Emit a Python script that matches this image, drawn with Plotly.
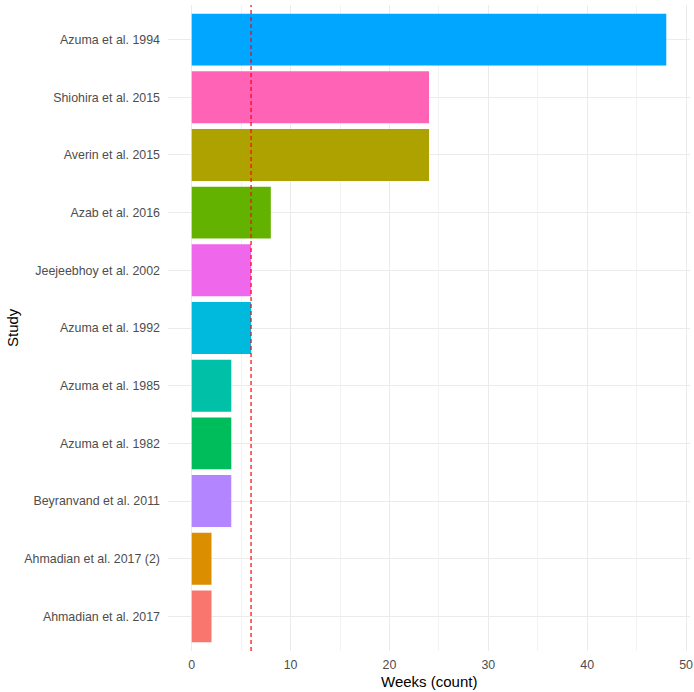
import plotly.graph_objects as go

studies = ["Ahmadian et al. 2017", "Ahmadian et al. 2017 (2)", "Beyranvand et al. 2011",
           "Azuma et al. 1982", "Azuma et al. 1985", "Azuma et al. 1992",
           "Jeejeebhoy et al. 2002", "Azab et al. 2016", "Averin et al. 2015",
           "Shiohira et al. 2015", "Azuma et al. 1994"]
weeks = [2, 2, 4, 4, 4, 6, 6, 8, 24, 24, 48]
colors = ["#F8766D", "#DB8E00", "#B385FF", "#00BD5C", "#00C1A7", "#00BADE",
          "#EF67EB", "#64B200", "#AEA200", "#FF63B6", "#00A6FF"]
ref_line = 6
x_ticks = [0, 10, 20, 30, 40, 50]

fig = go.Figure()
fig.add_trace(go.Bar(x=weeks, y=studies, orientation="h", width=0.9,
                     marker=dict(color=colors, line=dict(width=0)), showlegend=False))
fig.add_shape(type="line", x0=ref_line, x1=ref_line, y0=0, y1=1, xref="x", yref="paper",
              line=dict(color="#FF0000", width=1.2, dash="4px,3px"), layer="above")

fig.update_layout(
    width=694, height=692,
    margin=dict(l=168, r=4, t=5, b=41, autoexpand=False),
    paper_bgcolor="white", plot_bgcolor="white",
    font=dict(family="Liberation Sans, Arial, sans-serif", color="#4D4D4D", size=12.4),
    annotations=[
        dict(text="Weeks (count)", x=0.5, y=0, xref="paper", yref="paper",
             xanchor="center", yanchor="middle", yshift=-30, showarrow=False,
             font=dict(size=15, color="#000000")),
        dict(text="Study", x=0, y=0.5, xref="paper", yref="paper", textangle=-90,
             xanchor="center", yanchor="middle", xshift=-156, showarrow=False,
             font=dict(size=15, color="#000000")),
    ],
)
fig.update_xaxes(range=[-2.4, 50.4], tickvals=x_ticks, showgrid=True, gridcolor="#EBEBEB",
                 gridwidth=1.1, zeroline=False, showline=False, ticks="", automargin=False,
                 ticklabelstandoff=5,
                 minor=dict(dtick=5, tick0=5, showgrid=True, gridcolor="#F2F2F2", gridwidth=0.6),
                 tickfont=dict(size=12.4, color="#4D4D4D"))
fig.update_yaxes(categoryorder="array", categoryarray=studies, range=[-0.6, 10.6],
                 showgrid=True, gridcolor="#EBEBEB", gridwidth=1.1, zeroline=False,
                 showline=False, ticks="", ticklabelstandoff=7, automargin=False,
                 tickfont=dict(size=12.4, color="#4D4D4D"))

fig.write_html("out.html", config={"displayModeBar": False},
               post_script="document.body.style.margin='0';document.body.style.padding='0';")
